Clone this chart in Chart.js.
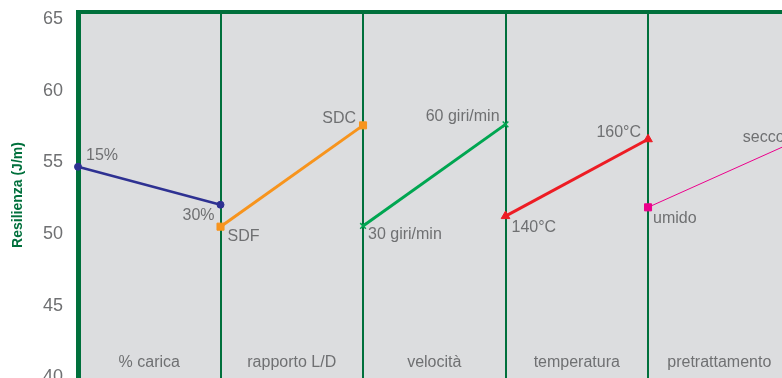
<!DOCTYPE html>
<html>
<head>
<meta charset="utf-8">
<script src="https://cdn.jsdelivr.net/npm/chart.js@4.4.1/dist/chart.umd.min.js"></script>
<style>
  html, body { margin: 0; padding: 0; background: #fff; overflow: hidden; }
  #wrap { width: 782px; height: 378px; }
</style>
</head>
<body>
<div id="wrap"><canvas id="resilienzaChart" width="782" height="378"></canvas></div>
<script>
// factors along the x axis (one segment each)
const categories = ["% carica", "rapporto L/D", "velocità", "temperatura", "pretrattamento"];
const yTicks = [40, 45, 50, 55, 60, 65];

// resilienza values, start / end level of each factor
const caricaValues = [54.7, 52.05];
const rapportoValues = [50.52, 57.59];
const velocitaValues = [50.57, 57.66];
const temperaturaValues = [51.26, 56.62];
const pretrattamentoValues = [51.87, 56.33];

const caricaLabels = ["15%", "30%"];
const rapportoLabels = ["SDF", "SDC"];
const velocitaLabels = ["30 giri/min", "60 giri/min"];
const temperaturaLabels = ["140°C", "160°C"];
const pretrattamentoLabels = ["umido", "secco"];

const allValues = [caricaValues, rapportoValues, velocitaValues, temperaturaValues, pretrattamentoValues];
const allLabels = [caricaLabels, rapportoLabels, velocitaLabels, temperaturaLabels, pretrattamentoLabels];

const GREEN = "#00703c";
const TEXT_GRAY = "#6f7072";
const FONT = '"Liberation Sans", Arial, Helvetica, sans-serif';

const seriesStyles = [
  { color: "#2e3192", pointStyle: "circle", radius: 3.5, width: 2.5 },
  { color: "#f7941d", pointStyle: "rect", radius: 5, width: 3 },
  { color: "#00a651", pointStyle: "crossRot", radius: 4, width: 3 },
  { color: "#ed1c24", pointStyle: "triangle", radius: 5, width: 3 },
  { color: "#ec008c", pointStyle: "rect", radius: 5, width: 1 },
];

// where each point label sits relative to its point: [dx, dy, align]
const labelOffsets = [
  [[8, -11, "left"], [-6, 11, "right"]],
  [[7, 10, "left"], [-7, -7, "right"]],
  [[5, 9, "left"], [-6, -8, "right"]],
  [[6, 12, "left"], [-7, -7, "right"]],
  [[5, 11, "left"], [-6, -6, "right"]],
];

const datasets = allValues.map((vals, i) => ({
  label: categories[i],
  data: vals.map((v, j) => ({ x: i + j, y: v })),
  borderColor: seriesStyles[i].color,
  backgroundColor: seriesStyles[i].color,
  borderWidth: seriesStyles[i].width,
  pointStyle: seriesStyles[i].pointStyle,
  pointRadius: seriesStyles[i].radius,
  pointBorderWidth: seriesStyles[i].pointStyle === "crossRot" ? 1.5 : 1,
  tension: 0,
  clip: false,
}));

const panelBackground = {
  id: "panelBackground",
  beforeDraw(chart) {
    const { ctx, chartArea: a } = chart;
    ctx.save();
    ctx.fillStyle = "#dcdddf";
    ctx.fillRect(a.left, a.top, a.right - a.left, a.bottom - a.top);
    ctx.restore();
  },
};

const textLabels = {
  id: "textLabels",
  afterDatasetsDraw(chart) {
    const { ctx } = chart;
    const xScale = chart.scales.x;
    ctx.save();
    ctx.font = "16px " + FONT;
    ctx.fillStyle = TEXT_GRAY;
    ctx.textBaseline = "middle";

    // factor names at the bottom of each segment
    ctx.textAlign = "center";
    categories.forEach((c, i) => {
      ctx.fillText(c, xScale.getPixelForValue(i + 0.5), 363);
    });

    // level labels next to each point
    allLabels.forEach((labels, i) => {
      const meta = chart.getDatasetMeta(i);
      labels.forEach((t, j) => {
        const pt = meta.data[j];
        const [dx, dy, align] = labelOffsets[i][j];
        ctx.textAlign = align;
        ctx.fillText(t, pt.x + dx, pt.y + dy);
      });
    });
    ctx.restore();
  },
};

const flatAxis = (scale) => {
  scale.height = 0;
  scale.paddingLeft = 0;
  scale.paddingRight = 0;
};

new Chart(document.getElementById("resilienzaChart"), {
  type: "line",
  data: { datasets: datasets },
  options: {
    responsive: false,
    animation: false,
    devicePixelRatio: 1,
    layout: { autoPadding: false, padding: { top: 12, left: 0, right: 0, bottom: 0 } },
    plugins: {
      legend: { display: false },
      tooltip: { enabled: false },
    },
    scales: {
      x: {
        type: "linear",
        position: "bottom",
        min: 0,
        max: 4.94,
        afterBuildTicks: (scale) => {
          scale.ticks = categories.map((c, i) => ({ value: i }));
        },
        afterFit: flatAxis,
        ticks: { display: false },
        grid: { color: GREEN, lineWidth: 2, drawTicks: false },
        border: { display: false },
      },
      xTop: {
        type: "linear",
        position: "top",
        min: 0,
        max: 1,
        afterFit: flatAxis,
        ticks: { display: false },
        grid: { display: false, drawTicks: false },
        border: { display: true, color: GREEN, width: 4 },
      },
      y: {
        min: 39.96,
        max: 65.5,
        afterBuildTicks: (scale) => {
          scale.ticks = yTicks.map((v) => ({ value: v }));
        },
        afterFit: (scale) => {
          scale.width = 78;
          scale.paddingTop = 0;
          scale.paddingBottom = 0;
        },
        ticks: {
          color: TEXT_GRAY,
          font: { family: FONT, size: 18 },
          padding: 15,
        },
        grid: { display: false, drawTicks: false },
        border: { display: true, color: GREEN, width: 5 },
        title: {
          display: true,
          text: "Resilienza (J/m)",
          color: GREEN,
          font: { family: FONT, size: 14, weight: "bold" },
          padding: { top: 10, bottom: 0 },
        },
      },
    },
  },
  plugins: [panelBackground, textLabels],
});
</script>
</body>
</html>
